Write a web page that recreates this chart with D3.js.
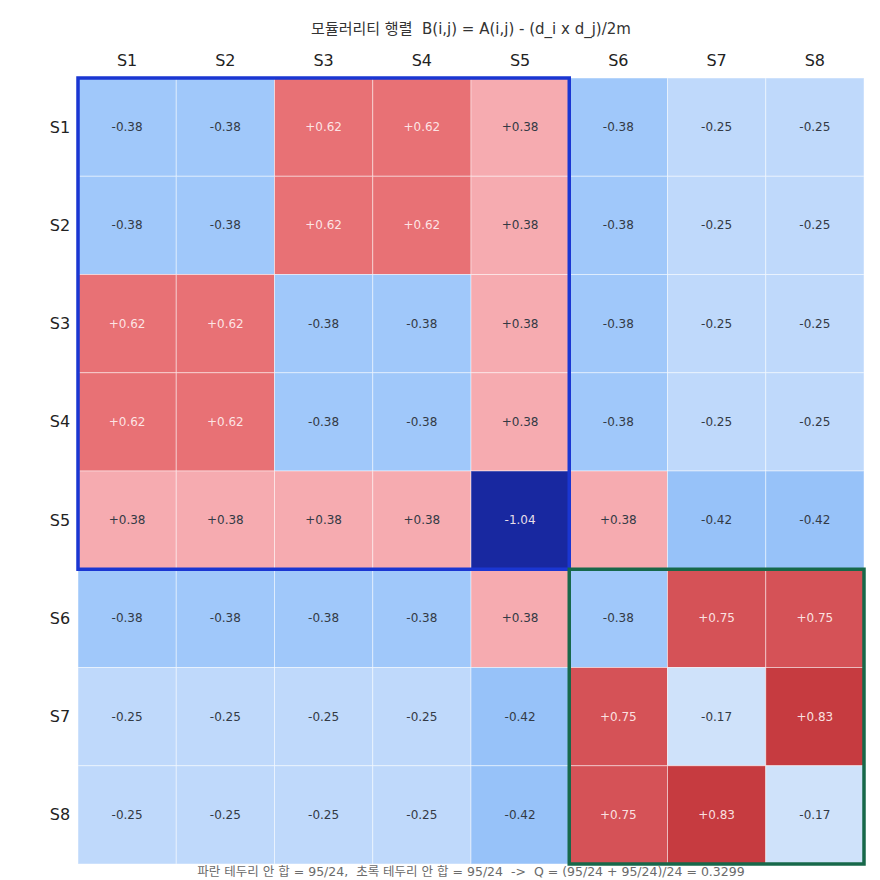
<!DOCTYPE html>
<html>
<head>
<meta charset="utf-8">
<script src="https://cdn.jsdelivr.net/npm/d3@7"></script>
<style>
  body { margin: 0; background: #fff; }
  svg text { font-family: "DejaVu Sans", "Noto Sans CJK KR", sans-serif; white-space: pre; }
</style>
</head>
<body>
<svg id="chart" width="880" height="880"></svg>
<script>
// node labels
var nodes = ['S1', 'S2', 'S3', 'S4', 'S5', 'S6', 'S7', 'S8'];

// modularity matrix rows
var rowS1 = [-0.38, -0.38, 0.62, 0.62, 0.38, -0.38, -0.25, -0.25];
var rowS2 = [-0.38, -0.38, 0.62, 0.62, 0.38, -0.38, -0.25, -0.25];
var rowS3 = [0.62, 0.62, -0.38, -0.38, 0.38, -0.38, -0.25, -0.25];
var rowS4 = [0.62, 0.62, -0.38, -0.38, 0.38, -0.38, -0.25, -0.25];
var rowS5 = [0.38, 0.38, 0.38, 0.38, -1.04, 0.38, -0.42, -0.42];
var rowS6 = [-0.38, -0.38, -0.38, -0.38, 0.38, -0.38, 0.75, 0.75];
var rowS7 = [-0.25, -0.25, -0.25, -0.25, -0.42, 0.75, -0.17, 0.83];
var rowS8 = [-0.25, -0.25, -0.25, -0.25, -0.42, 0.75, 0.83, -0.17];
var rows = [rowS1, rowS2, rowS3, rowS4, rowS5, rowS6, rowS7, rowS8];

// communities
var communityBlue = ['S1', 'S2', 'S3', 'S4', 'S5'];
var communityGreen = ['S6', 'S7', 'S8'];

var titleText = '모듈러리티 행렬  B(i,j) = A(i,j) - (d_i x d_j)/2m';
var footText = '파란 테두리 안 합 = 95/24,  초록 테두리 안 합 = 95/24  ->  Q = (95/24 + 95/24)/24 = 0.3299';

var svg = d3.select('#chart');
var gridLeft = 78, gridTop = 78, gridSize = 786;

var x = d3.scaleBand().domain(nodes).range([gridLeft, gridLeft + gridSize]);
var y = d3.scaleBand().domain(nodes).range([gridTop, gridTop + gridSize]);

var color = d3.scaleLinear()
  .domain([-1.04, -0.42, -0.38, -0.25, -0.17, 0, 0.38, 0.62, 0.75, 0.83])
  .range(['#1828a0', '#97c2f9', '#a0c8fa', '#bfd9fb', '#cfe2fa', '#f3f3f3',
          '#f6abb0', '#e87175', '#d55257', '#c63b40'])
  .clamp(true);

var cells = [];
rows.forEach(function(r, i) {
  r.forEach(function(v, j) {
    cells.push({ row: nodes[i], col: nodes[j], value: v });
  });
});

svg.selectAll('.cell')
  .data(cells)
  .enter().append('rect')
  .attr('class', 'cell')
  .attr('x', function(d) { return x(d.col); })
  .attr('y', function(d) { return y(d.row); })
  .attr('width', x.bandwidth())
  .attr('height', y.bandwidth())
  .attr('fill', function(d) { return color(d.value); })
  .attr('stroke', 'rgba(255,255,255,0.45)')
  .attr('stroke-width', 1);

function fmt(v) {
  return (v > 0 ? '+' : '') + v.toFixed(2);
}

svg.selectAll('.val')
  .data(cells)
  .enter().append('text')
  .attr('class', 'val')
  .attr('x', function(d) { return x(d.col) + x.bandwidth() / 2; })
  .attr('y', function(d) { return y(d.row) + y.bandwidth() / 2; })
  .attr('text-anchor', 'middle')
  .attr('dominant-baseline', 'central')
  .attr('font-size', 12)
  .attr('fill', function(d) {
    return (d.value >= 0.5 || d.value < -0.8) ? 'rgba(255,240,240,0.92)' : '#333a45';
  })
  .text(function(d) { return fmt(d.value); });

// community borders
function drawBox(group, stroke) {
  var first = group[0], last = group[group.length - 1];
  svg.append('rect')
    .attr('x', x(first))
    .attr('y', y(first))
    .attr('width', x(last) + x.bandwidth() - x(first))
    .attr('height', y(last) + y.bandwidth() - y(first))
    .attr('fill', 'none')
    .attr('stroke', stroke)
    .attr('stroke-width', 3.5);
}
drawBox(communityBlue, '#1a36d2');
drawBox(communityGreen, '#17684a');

// column labels
svg.selectAll('.colLabel')
  .data(nodes)
  .enter().append('text')
  .attr('class', 'colLabel')
  .attr('x', function(d) { return x(d) + x.bandwidth() / 2; })
  .attr('y', 60)
  .attr('text-anchor', 'middle')
  .attr('dominant-baseline', 'central')
  .attr('font-size', 16)
  .attr('fill', '#222')
  .text(function(d) { return d; });

// row labels
svg.selectAll('.rowLabel')
  .data(nodes)
  .enter().append('text')
  .attr('class', 'rowLabel')
  .attr('x', 60)
  .attr('y', function(d) { return y(d) + y.bandwidth() / 2; })
  .attr('text-anchor', 'middle')
  .attr('dominant-baseline', 'central')
  .attr('font-size', 16)
  .attr('fill', '#222')
  .text(function(d) { return d; });

svg.append('text')
  .attr('x', 471)
  .attr('y', 29)
  .attr('text-anchor', 'middle')
  .attr('dominant-baseline', 'central')
  .attr('font-size', 15)
  .attr('fill', '#333')
  .text(titleText);

svg.append('text')
  .attr('x', 471)
  .attr('y', 871)
  .attr('text-anchor', 'middle')
  .attr('dominant-baseline', 'central')
  .attr('font-size', 12.5)
  .attr('fill', '#6b6b6b')
  .text(footText);
</script>
</body>
</html>
